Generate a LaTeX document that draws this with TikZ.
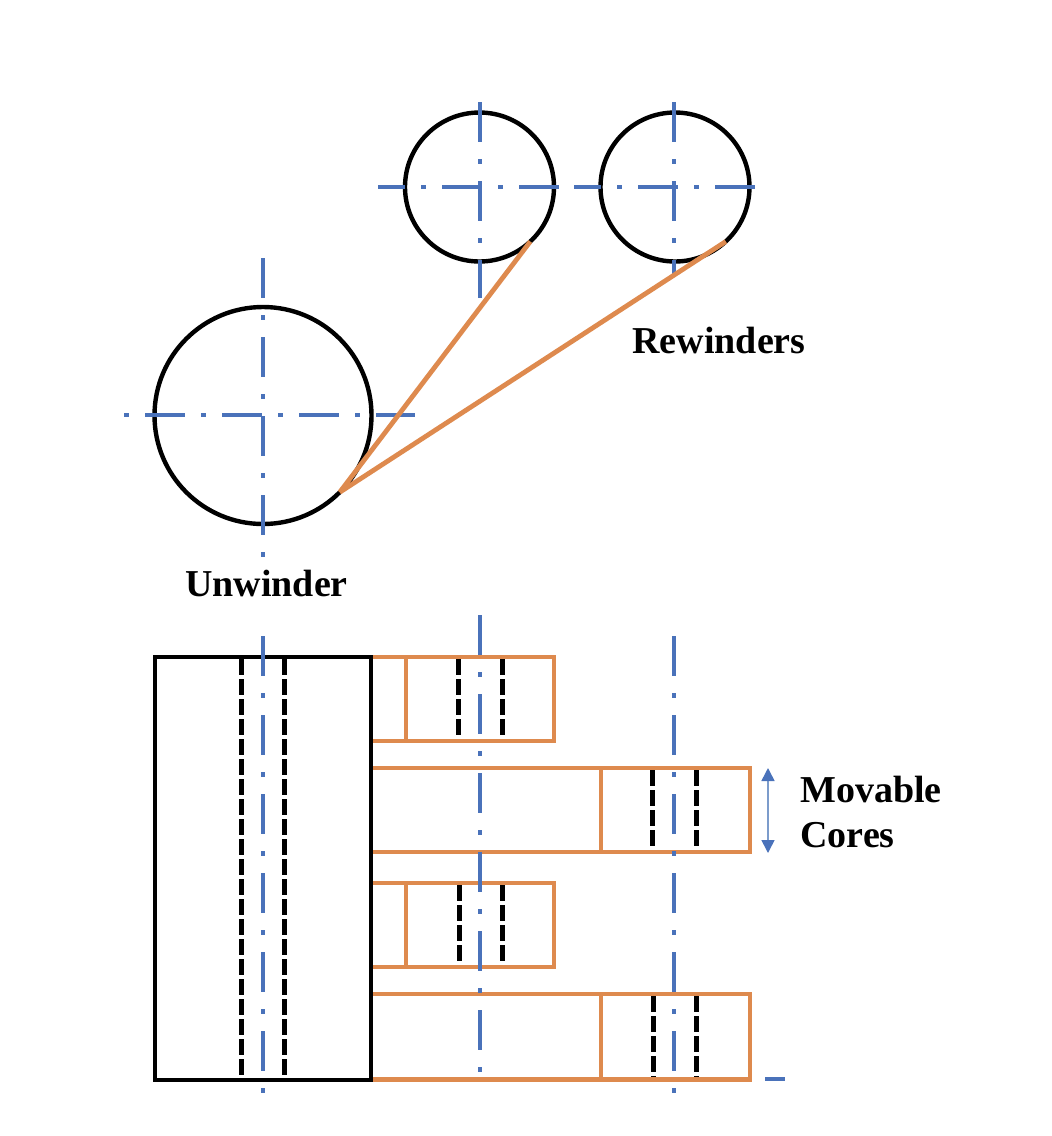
\documentclass[tikz,border=0pt]{standalone}
\usepackage{fontspec}
\setmainfont{Liberation Serif}
\usetikzlibrary{arrows.meta}
\definecolor{axisblue}{HTML}{4A72BA}
\definecolor{strokeblue}{HTML}{7C9CCB}
\definecolor{webbrown}{HTML}{DE8A4E}
\tikzset{
        centerline/.style={line width=2.3pt, draw=axisblue, dash pattern=on 20pt off #1 on 2.5pt off #1},
        hiddenline/.style={line width=2.5pt, draw=black, dash pattern=on 8pt off 2pt},
        web/.style={line width=2.4pt, draw=webbrown},
        roll/.style={circle, draw, line width=2.2pt, outer sep=0pt, inner sep=0pt},
        tag/.style={font=\fontsize{19}{19}\selectfont\bfseries, inner sep=0pt}
}
\begin{document}
\begin{tikzpicture}[x=0.5pt, y=-0.5pt]
        \useasboundingbox (0, 0) rectangle (1052, 1136);

        % Draw rolls
        \node[roll, minimum size=108.5pt] (unwinder) at (263, 415.5) {};
        \node[roll, minimum size=74.5pt] (rewinder1) at (479.5, 187) {};
        \node[roll, minimum size=74.5pt] (rewinder2) at (675, 187) {};

        % Draw center lines of the rolls
        \draw[centerline=8pt, dash phase=6.5pt] (378, 187) -- (562, 187);
        \draw[centerline=8pt, dash phase=6.5pt] (574, 187) -- (758, 187);
        \draw[centerline=8pt, dash phase=28pt] (124, 415) -- (415, 415);
        \draw[centerline=8.5pt] (480, 102) -- (480, 298);
        \draw[centerline=8.5pt] (674, 102) -- (674, 275);
        \draw[centerline=8.5pt] (263, 258) -- (263, 558);

        % Draw web
        \draw[web] (unwinder.-45) -- (rewinder1.-47);
        \draw[web] (unwinder.-45) -- (rewinder2.-47);

        % Draw core boxes
        \foreach \top/\bottom/\right/\inner/\coreL/\coreR in {
                657/741/554/406/458/502,
                768/852/750/601/652/696,
                883/967/554/406/459/502,
                994/1079.5/750/601/653/696} {
                \draw[hiddenline] (\coreL, \top + 2) -- (\coreL, \bottom);
                \draw[hiddenline] (\coreR, \top + 2) -- (\coreR, \bottom);
                \draw[web] (371, \top) -- (\right, \top) -- (\right, \bottom) -- (371, \bottom);
                \draw[web] (\inner, \top) -- (\inner, \bottom);
        }

        % Draw unwinder box
        \draw[hiddenline] (241, 659) -- (241, 1079);
        \draw[hiddenline] (284, 659) -- (284, 1079);
        \draw[line width=2.2pt] (155, 657) rectangle (371, 1080);

        % Draw center lines of the boxes
        \draw[centerline=8.5pt] (263, 636) -- (263, 1093);
        \draw[centerline=8.5pt] (480, 615) -- (480, 1073);
        \draw[centerline=8.5pt] (674, 636) -- (674, 1093);
        \draw[line width=2.3pt, draw=axisblue] (765, 1079) -- (785, 1079);

        % Draw stroke arrow
        \coordinate (strokeup) at (768, 768);
        \coordinate (strokedown) at (768, 853);
        \draw[{Stealth[length=6.5pt, width=6.5pt, inset=0pt, color=axisblue]}-{Stealth[length=6.5pt, width=6.5pt, inset=0pt, color=axisblue]}, line width=0.8pt, draw=strokeblue] (strokeup) -- (strokedown);

        % Draw labels
        \node[tag] (rewinders) at (719, 340) {Rewinders};
        \node[tag] (unwinderlabel) at (266.5, 583) {Unwinder};
        \node[tag, anchor=west] (movable) at (800, 789) {Movable};
        \node[tag, anchor=west] (cores) at (800, 835) {Cores};
\end{tikzpicture}
\end{document}
